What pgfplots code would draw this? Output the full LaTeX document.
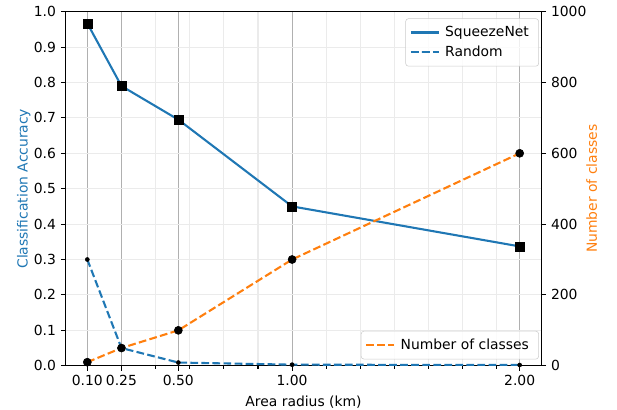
\documentclass[border=0pt]{standalone}
\usepackage{fontspec}
\setmainfont{DejaVu Sans}
\usepackage{pgfplots}
\pgfplotsset{compat=1.18}
\definecolor{mplblue}{HTML}{1F77B4}
\definecolor{mplorange}{HTML}{FF7F0E}
\definecolor{gridmaj}{HTML}{B0B0B0}
\definecolor{gridmin}{HTML}{EBEBEB}
\definecolor{legedge}{HTML}{CCCCCC}

\pgfplotsset{
  mplbase/.style={
    scale only axis, width=342.4pt, height=254.9pt,
    xmin=0.005, xmax=2.095,
    tick align=outside, major tick length=3.5pt, minor tick length=2pt,
    tick style={black, line width=0.8pt},
    axis line style={line width=0.8pt},
    tick label style={font=\fontsize{10}{12}\selectfont},
    label style={font=\fontsize{10}{12}\selectfont},
    /pgf/number format/assume math mode=true,
    legend style={font=\fontsize{10}{12}\selectfont, draw=legedge,
      rounded corners=2pt, fill=white, fill opacity=0.8, text opacity=1,
      inner xsep=3pt, inner ysep=3.5pt, row sep=1.2pt,
      nodes={inner xsep=4pt}},
    legend cell align=left,
    legend image code/.code={\draw[mark repeat=2,mark phase=2]
      plot coordinates {(0cm,0cm) (0.35cm,0cm) (0.7cm,0cm)};},
  },
  mpldash/.style={dash pattern=on 5.55pt off 2.4pt},
}

\begin{document}
\begin{tikzpicture}
\begin{axis}[mplbase, name=ax,
  ymin=0, ymax=1,
  xtick={0.1,0.25,0.5,1,2},
  xticklabels={0.10,0.25,0.50,1.00,2.00},
  minor xtick={0.40,0.55,0.70,0.85,1.15,1.30,1.45,1.60,1.75,1.90},
  ytick={0,0.1,0.2,0.3,0.4,0.5,0.6,0.7,0.8,0.9,1.0},
  yticklabels={0.0,0.1,0.2,0.3,0.4,0.5,0.6,0.7,0.8,0.9,1.0},
  xtick pos=bottom, ytick pos=left,
  xmajorgrids, xminorgrids, ymajorgrids,
  major x grid style={gridmaj, line width=0.8pt},
  minor x grid style={gridmin, line width=0.8pt},
  major y grid style={gridmin, line width=0.8pt},
  xlabel={Area radius (km)},
  ylabel={Classification Accuracy},
  ylabel style={mplblue, yshift=-4.5pt},
  legend style={at={(0.995,0.981)}, anchor=north east},
]
\addplot[mplblue, line width=1.5pt] coordinates {
  (0.10,0.967) (0.25,0.790) (0.50,0.695) (1.00,0.450) (2.00,0.337)
};
\addlegendentry{SqueezeNet}
\addplot[mplblue, line width=1.5pt, mpldash] coordinates {
  (0.10,0.300) (0.25,0.050) (0.50,0.009) (1.00,0.003) (2.00,0.002)
};
\addlegendentry{Random}
\addplot[only marks, mark=square*, mark size=3.25pt, black, forget plot] coordinates {
  (0.10,0.967) (0.25,0.790) (0.50,0.695) (1.00,0.450) (2.00,0.337)
};
\addplot[only marks, mark=*, mark size=1.45pt, black, forget plot] coordinates {
  (0.10,0.300) (0.25,0.050) (0.50,0.009) (1.00,0.003) (2.00,0.002)
};
\end{axis}
\begin{axis}[mplbase,
  ymin=0, ymax=1000,
  axis y line*=right, axis x line=none,
  ytick={0,200,400,600,800,1000},
  yticklabels={0,200,400,600,800,1000},
  yticklabel pos=right, ylabel near ticks,
  ylabel={Number of classes},
  ylabel style={mplorange, yshift=7pt},
  legend style={at={(0.995,0.018)}, anchor=south east},
]
\addplot[mplorange, line width=1.5pt, mpldash] coordinates {
  (0.10,10) (0.25,50) (0.50,100) (1.00,300) (2.00,600)
};
\addlegendentry{Number of classes}
\addplot[only marks, mark=*, mark size=2.9pt, black, forget plot] coordinates {
  (0.10,10) (0.25,50) (0.50,100) (1.00,300) (2.00,600)
};
\end{axis}
\pgfresetboundingbox
\path ([shift={(-47.3pt,-31.2pt)}]ax.south west) rectangle ([shift={(54.5pt,8.4pt)}]ax.north east);
\end{tikzpicture}
\end{document}
